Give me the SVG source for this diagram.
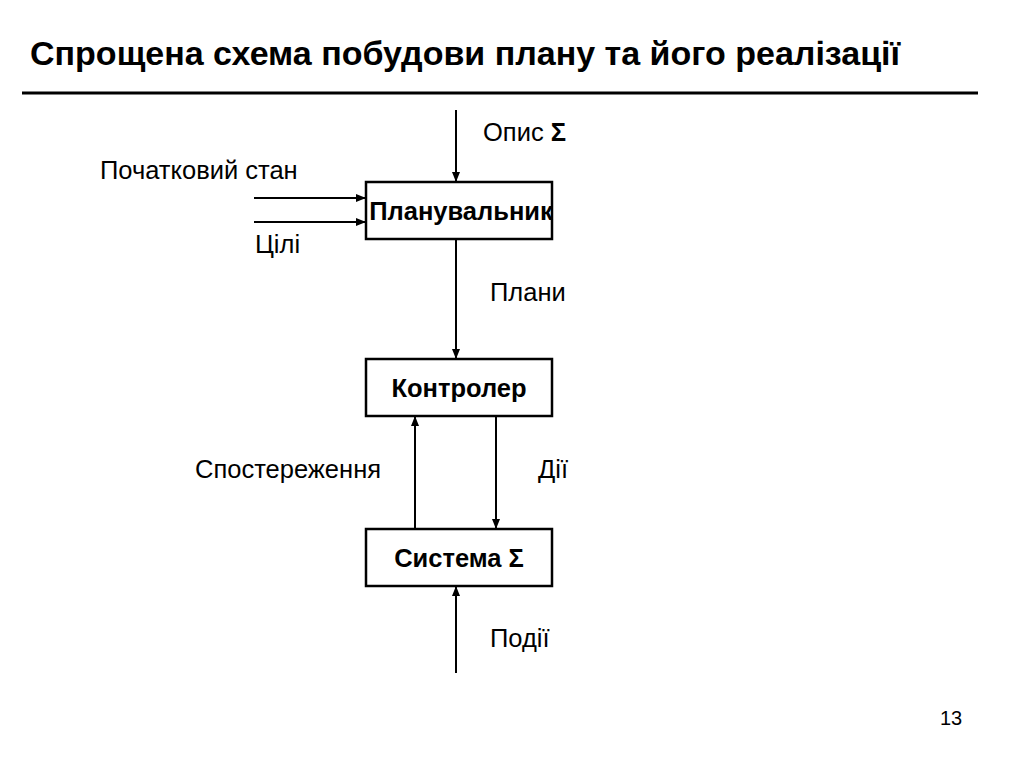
<svg xmlns="http://www.w3.org/2000/svg" width="1024" height="768" viewBox="0 0 1024 768">
<defs>
<marker id="ah" markerWidth="10" markerHeight="8" refX="9" refY="4" orient="auto" markerUnits="userSpaceOnUse">
<path d="M0,0 L10,4 L0,8 Z" fill="#000"/>
</marker>
<style>
.t{font-family:"Liberation Sans",Arial,sans-serif;font-size:25.5px;fill:#000}
.b{font-weight:bold}
.box{fill:#fff;stroke:#000;stroke-width:2.5}
.c{stroke:#000;stroke-width:2;fill:none;marker-end:url(#ah)}
</style>
</defs>
<rect width="1024" height="768" fill="#fff"/>
<text x="30" y="65" class="t b" style="font-size:34px">Спрощена схема побудови плану та його реалізації</text>
<line x1="22" y1="93" x2="978" y2="93" stroke="#000" stroke-width="3"/>
<g id="connectors">
<line class="c" x1="456" y1="110" x2="456" y2="181"/>
<line class="c" x1="254" y1="198" x2="365" y2="198"/>
<line class="c" x1="254" y1="222" x2="365" y2="222"/>
<line class="c" x1="456" y1="240" x2="456" y2="358"/>
<line class="c" x1="415" y1="529" x2="415" y2="417"/>
<line class="c" x1="496" y1="417" x2="496" y2="528"/>
<line class="c" x1="456" y1="673" x2="456" y2="587"/>
</g>
<g id="labels">
<text x="483" y="141" class="t">Опис <tspan class="b">Σ</tspan></text>
<text x="100" y="179" class="t">Початковий стан</text>
<text x="255" y="253" class="t">Цілі</text>
<text x="490" y="301" class="t">Плани</text>
<text x="195" y="478" class="t">Спостереження</text>
<text x="538" y="478" class="t">Дії</text>
<text x="490" y="647" class="t">Події</text>
<text x="940" y="725" class="t" style="font-size:20px">13</text>
</g>
<g id="planner">
<rect class="box" x="366" y="182" width="186" height="57"/>
<text x="461" y="220" class="t b" text-anchor="middle">Планувальник</text>
</g>
<g id="controller">
<rect class="box" x="366" y="359" width="186" height="57"/>
<text x="459" y="397" class="t b" text-anchor="middle">Контролер</text>
</g>
<g id="system">
<rect class="box" x="366" y="529" width="186" height="57"/>
<text x="459" y="567" class="t b" text-anchor="middle">Система Σ</text>
</g>
</svg>
